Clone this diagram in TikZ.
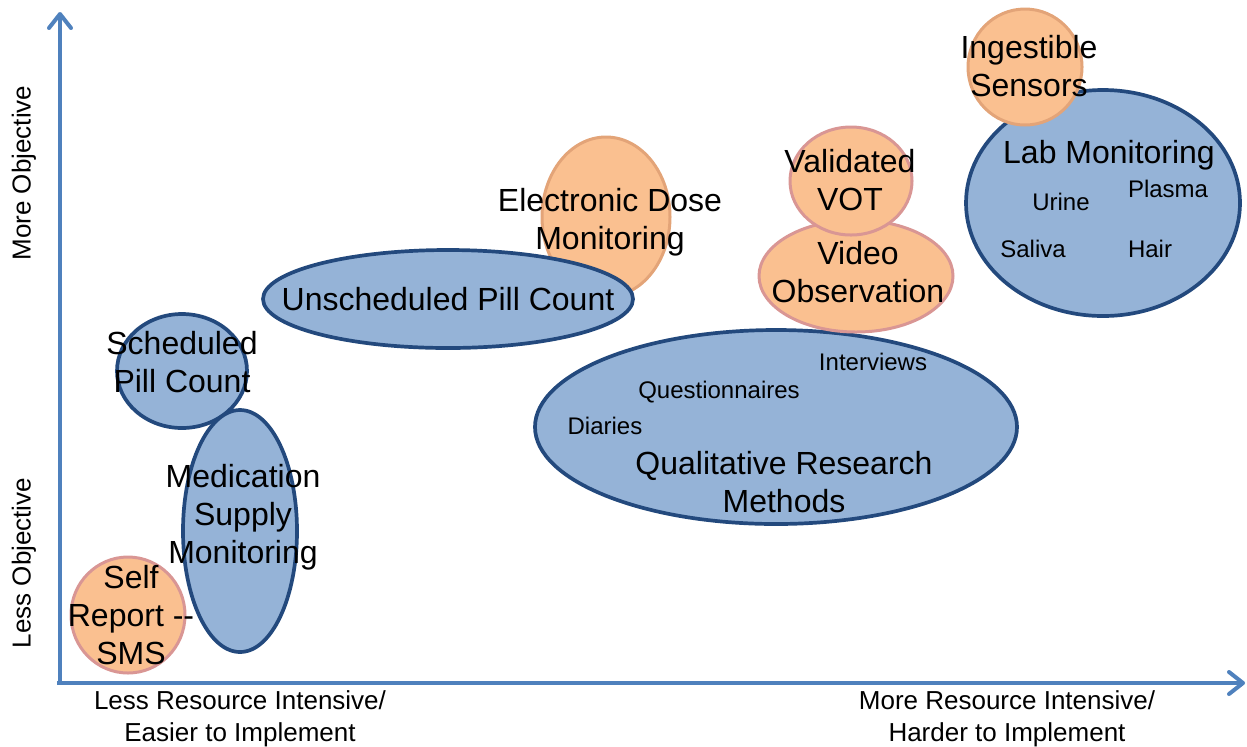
\documentclass[tikz,border=0pt]{standalone}
\usepackage{fontspec}
\setmainfont{Liberation Sans}
\usetikzlibrary{arrows.meta}
\definecolor{bfill}{HTML}{95B3D7}
\definecolor{bline}{HTML}{23497D}
\definecolor{ofill}{HTML}{FAC090}
\definecolor{pline}{HTML}{D99694}
\definecolor{oline}{HTML}{E3A478}
\definecolor{axiscol}{HTML}{4F81BD}
\begin{document}
\begin{tikzpicture}[x=0.5pt,y=-0.5pt,
 bluesh/.style={fill=bfill,draw=bline,line width=1.85pt},
 pinksh/.style={fill=ofill,draw=pline,line width=1.5pt},
 orangesh/.style={fill=ofill,draw=oline,line width=1.5pt},
 big/.style={font=\fontsize{16}{19}\selectfont,align=center,inner sep=0pt},
 small/.style={font=\fontsize{12}{14}\selectfont,inner sep=0pt},
 axlab/.style={font=\fontsize{13}{16}\selectfont,align=center,inner sep=0pt},
 axisline/.style={draw=axiscol,line width=2pt,-{Straight Barb[length=7pt,width=11pt,round]}}]
\useasboundingbox (0,0) rectangle (1247,746);

% axes
\coordinate (origin) at (60,683);
\coordinate (corner) at (57,683);
\coordinate (ytop) at (60,12);
\coordinate (xend) at (1245,683);
\draw[axisline] (origin) -- (ytop);
\draw[axisline] (corner) -- (xend);

% shapes, back to front
\draw[orangesh] (606,217) ellipse [x radius=32pt, y radius=40pt];
\draw[bluesh] (448,299) ellipse [x radius=92.5pt, y radius=24.5pt];
\draw[bluesh] (182,371) ellipse [x radius=32.5pt, y radius=28.5pt];
\draw[pinksh] (128,615) ellipse [x radius=28.5pt, y radius=29pt];
\draw[bluesh] (240,531) ellipse [x radius=28.5pt, y radius=60.5pt];
\draw[bluesh] (776,427) ellipse [x radius=120.5pt, y radius=48.5pt];
\draw[pinksh] (856,276) ellipse [x radius=48.5pt, y radius=28pt];
\draw[pinksh] (851,181) ellipse [x radius=30.5pt, y radius=27pt];
\draw[bluesh] (1103,203) ellipse [x radius=68.5pt, y radius=56.5pt];
\draw[orangesh] (1025,67) ellipse [x radius=28.5pt, y radius=29pt];

% texts
\node[big] (edm) at (610,222) {Electronic Dose\\Monitoring};
\node[big] (upc) at (448,299) {Unscheduled Pill Count};
\node[big] (spc) at (182,362) {Scheduled\\Pill Count};
\node[big] (msm) at (243,517) {Medication\\Supply\\Monitoring};
\node[big] (srs) at (131,615) {Self\\Report -{}-\\SMS};
\node[small] (int) at (873,362) {Interviews};
\node[small] (que) at (719,392) {Questionnaires};
\node[small] (dia) at (605,426) {Diaries};
\node[big] (qrm) at (784,482) {Qualitative Research\\Methods};
\node[big] (vid) at (858,272) {Video\\Observation};
\node[big] (vot) at (850,180) {Validated\\VOT};
\node[big] (lab) at (1109,155) {Lab Monitoring};
\node[small] (uri) at (1061,202) {Urine};
\node[small] (pla) at (1168,189) {Plasma};
\node[small] (sal) at (1033,249) {Saliva};
\node[small] (hai) at (1150,249) {Hair};
\node[big] (ing) at (1029,66) {Ingestible\\Sensors};

% axis labels
\node[axlab,rotate=90] (mo) at (24,173) {More Objective};
\node[axlab,rotate=90] (lo) at (24,563) {Less Objective};
\node[axlab] (lri) at (240,719) {Less Resource Intensive/\\Easier to Implement};
\node[axlab] (mri) at (1007,719) {More Resource Intensive/\\Harder to Implement};
\end{tikzpicture}
\end{document}
